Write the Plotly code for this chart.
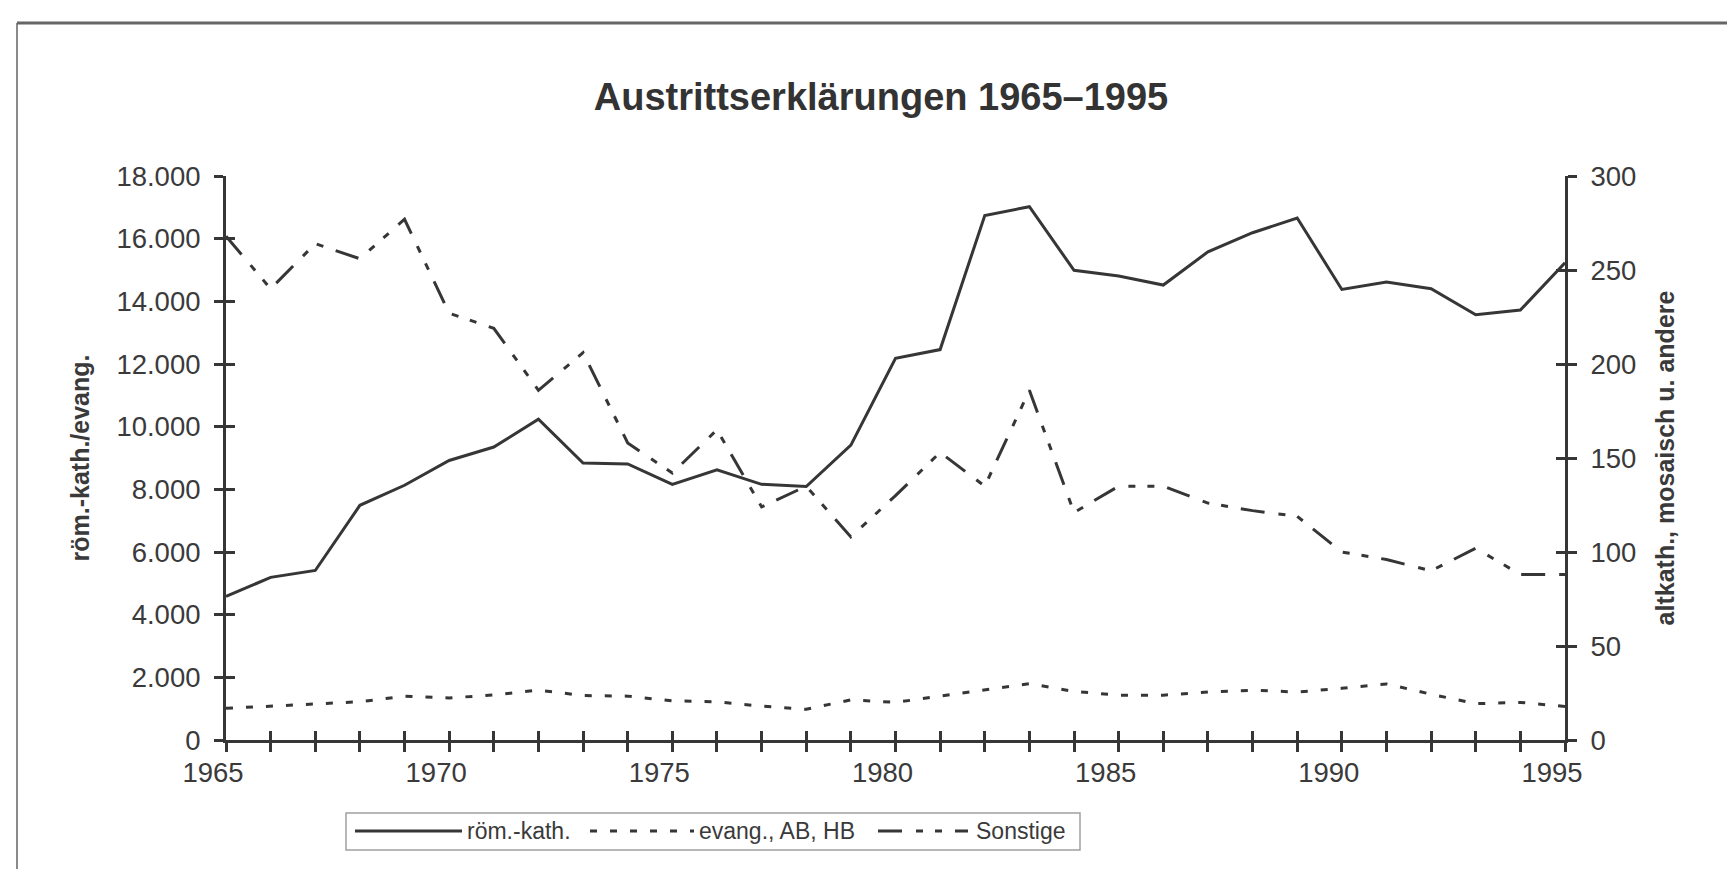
import plotly.graph_objects as go

# ---------------- data ----------------
years = list(range(1965, 1996))
roem_kath = [4580, 5190, 5410, 7490, 8130, 8920, 9350, 10240, 8840, 8810,
             8160, 8620, 8160, 8090, 9410, 12180, 12460, 16740, 17020, 14990,
             14810, 14520, 15580, 16190, 16660, 14380, 14620, 14400, 13570, 13720,
             15230]
evang = [1010, 1080, 1140, 1220, 1400, 1340, 1440, 1590, 1420, 1400,
         1250, 1220, 1080, 980, 1280, 1200, 1400, 1590, 1800, 1550,
         1430, 1430, 1530, 1590, 1530, 1650, 1790, 1460, 1160, 1200,
         1070]
sonstige = [268, 240, 264, 256, 277, 227, 219, 186, 206, 158,
            142, 165, 124, 135, 108, 130, 153, 135, 186, 121,
            135, 135, 126, 122, 119, 100, 96, 90, 102, 88,
            88]
x_tick_labels = [str(y) if y % 5 == 0 else "" for y in years]
left_ticks = [0, 2000, 4000, 6000, 8000, 10000, 12000, 14000, 16000, 18000]
right_ticks = [0, 50, 100, 150, 200, 250, 300]
series_names = ["röm.-kath.", "evang., AB, HB", "Sonstige"]
title_text = "Austrittserklärungen 1965–1995"
left_title = "röm.-kath./evang."
right_title = "altkath., mosaisch u. andere"

# ---------------- layout geometry (px) ----------------
W, H = 1735, 869
L, R, T, B = 218, 1557, 168, 732


def px(x):
    return (x - L) / (R - L)


def py(y):
    return (B - y) / (B - T)


INK = "#363636"
TXT = "#3a3a3a"
FONT = "Liberation Sans, Arial, Helvetica, sans-serif"
dash_evang = "7px,13px"
dash_sonst = "24px,14px,7px,12px,7px,13px"

fig = go.Figure()
fig.add_trace(go.Scatter(x=years, y=roem_kath, name=series_names[0], mode="lines",
                         line=dict(color=INK, width=3), xaxis="x", yaxis="y"))
fig.add_trace(go.Scatter(x=years, y=evang, name=series_names[1], mode="lines",
                         line=dict(color=INK, width=3, dash=dash_evang), xaxis="x", yaxis="y"))
fig.add_trace(go.Scatter(x=years, y=sonstige, name=series_names[2], mode="lines",
                         line=dict(color=INK, width=3, dash=dash_sonst), xaxis="x", yaxis="y2"))
# helper (empty) traces so the overlay axes that draw the inner half of the ticks exist
for xa, ya in [("x2", "y"), ("x", "y3"), ("x", "y4")]:
    fig.add_trace(go.Scatter(x=[years[0], years[-1]], y=[None, None], xaxis=xa, yaxis=ya,
                             mode="lines", showlegend=False, hoverinfo="skip"))

tickfont = dict(family=FONT, size=27.5, color=TXT)
common = dict(showgrid=False, zeroline=False, linecolor=INK, linewidth=3,
              tickcolor=INK, tickwidth=2.5, ticklen=9, tickfont=tickfont)

fig.update_layout(
    width=W, height=H,
    margin=dict(l=L, r=W - R, t=T, b=H - B, pad=0),
    paper_bgcolor="white", plot_bgcolor="white",
    showlegend=False,
    separators=",.",
    hovermode=False,
    title=dict(text="<b>" + title_text + "</b>", x=873 / W, xref="container", xanchor="center",
               y=1 - 89 / H, yref="container", yanchor="middle",
               font=dict(family=FONT, size=38, color="#333333")),
    xaxis=dict(range=[years[0], years[-1]], tickmode="array", tickvals=years, ticktext=x_tick_labels,
               ticks="outside", showline=True, ticklabelshift=-13, ticklabelstandoff=-3,
               anchor="y", **common),
    xaxis2=dict(range=[years[0], years[-1]], overlaying="x", anchor="y", side="bottom",
                tickmode="array", tickvals=years, ticks="inside", showticklabels=False,
                showline=False, showgrid=False, zeroline=False, tickcolor=INK, tickwidth=2.5, ticklen=9),
    yaxis=dict(range=[0, 18000], tickmode="array", tickvals=left_ticks, tickformat=",.0f",
               ticks="outside", showline=True, anchor="x", ticklabelstandoff=8,
               title=dict(text="<b>" + left_title + "</b>", standoff=20,
                          font=dict(family=FONT, size=25, color=TXT)),
               **common),
    yaxis2=dict(range=[0, 300], tickmode="array", tickvals=right_ticks, overlaying="y", side="right",
                anchor="x", ticks="outside", showline=True, ticklabelstandoff=8,
                title=dict(text="<b>" + right_title + "</b>", standoff=22,
                           font=dict(family=FONT, size=25, color=TXT)),
                **common),
    yaxis3=dict(range=[0, 18000], overlaying="y", side="left", anchor="x", tickmode="array",
                tickvals=left_ticks, ticks="inside", showticklabels=False, showline=False,
                showgrid=False, zeroline=False, tickcolor=INK, tickwidth=2.5, ticklen=9),
    yaxis4=dict(range=[0, 300], overlaying="y", side="right", anchor="x", tickmode="array",
                tickvals=right_ticks, ticks="inside", showticklabels=False, showline=False,
                showgrid=False, zeroline=False, tickcolor=INK, tickwidth=2.5, ticklen=9),
)

shapes = []
# outer frame of the figure
shapes.append(dict(type="line", xref="paper", yref="paper", x0=px(9), x1=px(9), y0=py(15), y1=py(900),
                   line=dict(color="#8a8a8a", width=2)))
shapes.append(dict(type="line", xref="paper", yref="paper", x0=px(1729), x1=px(1729), y0=py(15), y1=py(900),
                   line=dict(color="#8a8a8a", width=2)))
shapes.append(dict(type="line", xref="paper", yref="paper", x0=px(9), x1=px(1729), y0=py(15), y1=py(15),
                   line=dict(color="#666666", width=3)))
# legend box
shapes.append(dict(type="rect", xref="paper", yref="paper", x0=px(338), x1=px(1072), y0=py(805), y1=py(842),
                   line=dict(color="#a0a0a0", width=1.5), fillcolor="rgba(0,0,0,0)"))
leg_y = py(823)
leg_lines = [(347, 454, "solid"), (582, 686, dash_evang), (870, 960, dash_sonst)]
for x0, x1, d in leg_lines:
    shapes.append(dict(type="line", xref="paper", yref="paper", x0=px(x0), x1=px(x1), y0=leg_y, y1=leg_y,
                       line=dict(color=INK, width=3, dash=d)))
fig.update_layout(shapes=shapes)

leg_text_x = [457, 689, 966]
for name, tx in zip(series_names, leg_text_x):
    fig.add_annotation(text=name, xref="paper", yref="paper", x=px(tx), y=leg_y, xanchor="left",
                       yanchor="middle", showarrow=False, font=dict(family=FONT, size=23, color=TXT))

fig.write_html("out.html", config={"displayModeBar": False})
